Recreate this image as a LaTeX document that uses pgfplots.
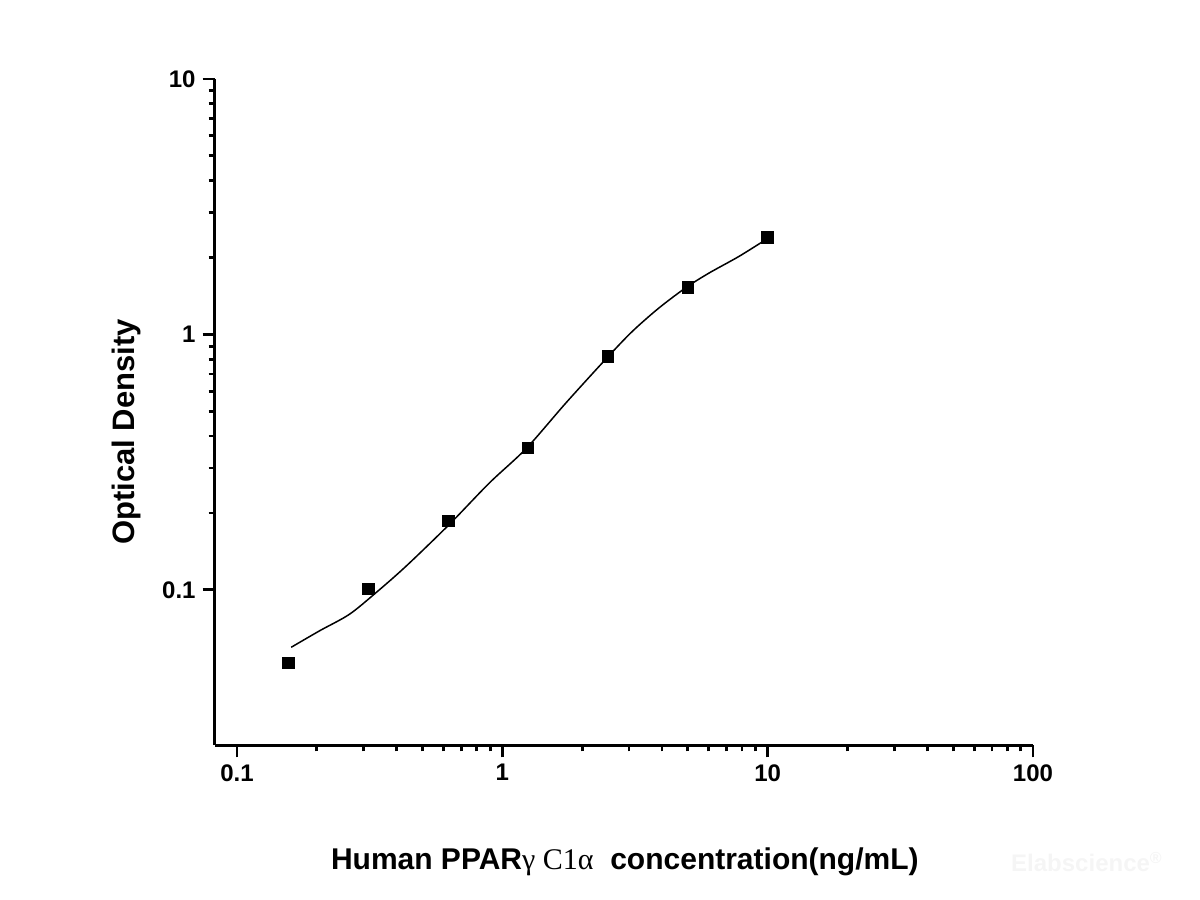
\documentclass[border=0pt]{standalone}
\usepackage{pgfplots}
\pgfplotsset{compat=1.18}
\usepackage{fontspec}
\setmainfont{Liberation Sans}
\newfontfamily\serif{Liberation Serif}

\pgfplotsset{
    every tick/.style={black, line width=1.4pt},
    every tick label/.append style={font=\fontsize{12pt}{14pt}\selectfont\bfseries},
}

% measured points
\pgfplotstableread{
conc od
0.156 0.0518
0.3125 0.1009
0.625 0.186
1.25 0.360
2.5 0.820
5 1.527
10 2.40
}\measured

% fitted curve
\pgfplotstableread{
conc od
0.160 0.0596
0.205 0.0692
0.265 0.0802
0.334 0.0975
0.434 0.1239
0.631 0.1804
0.893 0.2620
1.231 0.3580
1.738 0.5400
2.493 0.8150
3.096 1.0300
3.902 1.2720
4.945 1.5310
6.022 1.7410
7.810 2.0230
10.00 2.3760
}\fitted

\begin{document}
\begin{tikzpicture}
\path[use as bounding box] (-107.5pt,-77.5pt) rectangle (492.5pt,372.5pt);
\begin{axis}[
    at={(0,0)}, anchor=south west,
    scale only axis,
    width=409pt, height=333pt,
    xmode=log, ymode=log,
    xmin=0.0826, xmax=100,
    ymin=0.0247, ymax=10,
    axis x line*=bottom, axis y line*=left,
    axis line style={line width=1.5pt},
    tick align=outside,
    major tick length=6.2pt, minor tick length=3.2pt,
    xtick style={black, line width=1.4pt},
    ytick style={black, line width=1.4pt},
    log ticks with fixed point,
    /pgf/number format/assume math mode=true,
    xtick={0.1,1,10,100},
    ytick={0.1,1,10},
    clip=false,
]
\addplot[black, line width=0.75pt, smooth, tension=0.5] table[x=conc, y=od] {\fitted};
\addplot[only marks, mark=square*, mark size=2.9pt, black] table[x=conc, y=od] {\measured};

\node[rotate=90, font=\fontsize{15.5pt}{17pt}\selectfont\bfseries]
    at (axis description cs:-0.1076,0.470) {Optical Density};
\node[font=\fontsize{15pt}{17pt}\selectfont\bfseries]
    at (axis description cs:0.501,-0.1757)
    {Human PPAR{\serif\mdseries γ\ C1α}\ \ concentration(ng/mL)};
\node[font=\fontsize{12pt}{14pt}\selectfont\bfseries, text=black!4]
    at (axis description cs:1.066,-0.1757) {Elabscience\textsuperscript{®}};
\end{axis}
\end{tikzpicture}
\end{document}
